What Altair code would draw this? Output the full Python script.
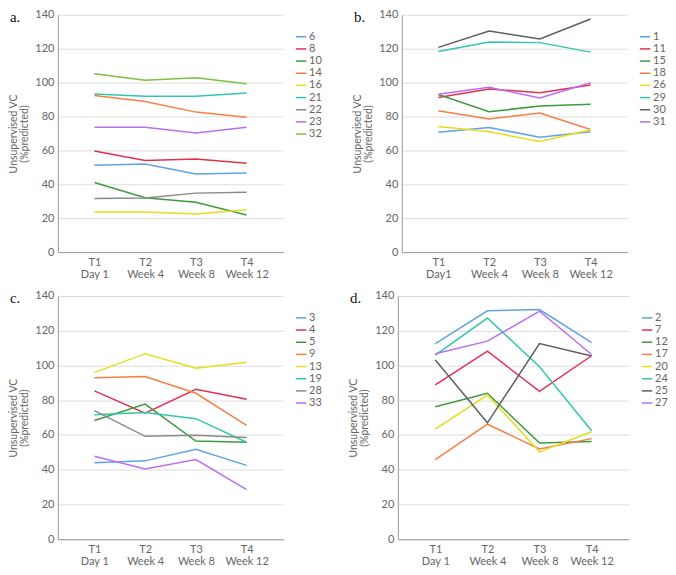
import altair as alt
import pandas as pd

# ---- time point labels ----
times_std = ["T1|Day 1", "T2|Week 4", "T3|Week 8", "T4|Week 12"]
times_b = ["T1|Day1", "T2|Week 4", "T3|Week 8", "T4|Week 12"]

# ---- panel a ----
ids_a = ["6", "8", "10", "14", "16", "21", "22", "23", "32"]
vals_a = [
    [51.3, 52.0, 46.1, 46.7],
    [59.7, 54.0, 54.9, 52.4],
    [41.1, 32.1, 29.4, 21.9],
    [92.4, 88.9, 82.6, 79.5],
    [23.6, 23.6, 22.5, 25.0],
    [93.3, 92.0, 92.0, 93.9],
    [31.7, 31.9, 34.8, 35.3],
    [73.6, 73.6, 70.3, 73.7],
    [105.2, 101.4, 102.9, 99.3],
]
colors_a = ["#5fa3e6", "#e3304f", "#3e9a3e", "#f57f45", "#e5de1f",
            "#33c6ae", "#8a8a8a", "#bb6ef5", "#7cc242"]

# ---- panel b ----
ids_b = ["1", "11", "15", "18", "26", "29", "30", "31"]
vals_b = [
    [70.7, 73.5, 67.8, 71.0],
    [91.2, 96.3, 94.0, 98.6],
    [93.0, 82.8, 86.2, 87.2],
    [83.4, 78.6, 82.0, 72.3],
    [74.1, 71.0, 65.2, 72.2],
    [118.4, 124.0, 123.6, 118.0],
    [120.8, 130.5, 125.8, 137.5],
    [93.2, 97.2, 90.9, 99.9],
]
colors_b = ["#5fa3e6", "#e3304f", "#3e9a3e", "#f57f45", "#e5de1f",
            "#33c6ae", "#5e5e5e", "#bb6ef5"]

# ---- panel c ----
ids_c = ["3", "4", "5", "9", "13", "19", "28", "33"]
vals_c = [
    [44.0, 45.1, 51.8, 42.5],
    [85.4, 72.5, 86.3, 80.6],
    [68.3, 77.8, 56.5, 55.8],
    [93.0, 93.7, 84.0, 65.5],
    [95.9, 106.8, 98.4, 101.8],
    [71.7, 73.0, 69.4, 55.8],
    [74.0, 59.2, 59.8, 58.6],
    [47.8, 40.4, 45.9, 28.6],
]
colors_c = ["#5fa3e6", "#e3304f", "#3e9a3e", "#f57f45", "#e5de1f",
            "#33c6ae", "#8a8a8a", "#bb6ef5"]

# ---- panel d ----
ids_d = ["2", "7", "12", "17", "20", "24", "25", "27"]
vals_d = [
    [112.6, 131.5, 132.2, 113.2],
    [88.9, 108.2, 85.1, 105.6],
    [76.2, 84.0, 55.4, 56.2],
    [45.8, 66.2, 52.0, 57.9],
    [63.4, 83.0, 50.3, 61.9],
    [105.9, 127.3, 99.3, 62.4],
    [103.1, 67.0, 112.6, 105.4],
    [106.7, 114.0, 131.3, 106.3],
]
colors_d = ["#5fa3e6", "#e3304f", "#3e9a3e", "#f57f45", "#e5de1f",
            "#33c6ae", "#5e5e5e", "#bb6ef5"]

FONT = "Lato"
GRAY = "#666666"


def panel(letter, ids, vals, colors, times, w, h):
    rows = []
    for pid, series in zip(ids, vals):
        for t, v in zip(times, series):
            rows.append({"id": pid, "time": t, "value": v})
    df = pd.DataFrame(rows)
    lines = alt.Chart(df).mark_line(strokeWidth=1.5).encode(
        x=alt.X("time:N", sort=times,
                scale=alt.Scale(type="point", padding=0.72),
                axis=alt.Axis(title=None, labelAngle=0, ticks=False, grid=False,
                              labelExpr="split(datum.label, '|')",
                              labelPadding=4, labelLineHeight=12)),
        y=alt.Y("value:Q", scale=alt.Scale(domain=[0, 140]),
                axis=alt.Axis(title=["Unsupervised VC", "(%predicted)"],
                              values=[0, 20, 40, 60, 80, 100, 120, 140],
                              ticks=False, labelPadding=4, titlePadding=5)),
        color=alt.Color("id:N", sort=ids,
                        scale=alt.Scale(domain=ids, range=colors),
                        legend=alt.Legend(title=None, orient="none",
                                          legendX=w + 12, legendY=16,
                                          symbolType="stroke", symbolSize=110,
                                          symbolStrokeWidth=1.5,
                                          labelFont=FONT, labelFontSize=11,
                                          labelColor=GRAY, rowPadding=1.2,
                                          labelOffset=2)),
        detail="id:N",
    )
    lab = alt.Chart(pd.DataFrame({"t": [letter]})).mark_text(
        font="Liberation Serif", fontSize=15, align="left", baseline="middle",
        color="#111111"
    ).encode(text="t:N", x=alt.value(-48), y=alt.value(2))
    return alt.layer(lines, lab).properties(width=w, height=h).resolve_scale(color="independent")


pa = panel("a.", ids_a, vals_a, colors_a, times_std, 226, 238)
pb = panel("b.", ids_b, vals_b, colors_b, times_b, 226, 238)
pc = panel("c.", ids_c, vals_c, colors_c, times_std, 226, 244)
pd_ = panel("d.", ids_d, vals_d, colors_d, times_std, 232, 244)

chart = alt.vconcat(
    alt.hconcat(pa, pb, spacing=30).resolve_scale(color="independent"),
    alt.hconcat(pc, pd_, spacing=26).resolve_scale(color="independent"),
    spacing=11,
).resolve_scale(color="independent").properties(padding=0).configure_view(
    stroke=None
).configure_axis(
    labelFont=FONT, labelFontSize=11, labelColor=GRAY,
    titleFont=FONT, titleFontSize=10.5, titleColor=GRAY, titleFontWeight="normal",
    titleLineHeight=11,
    domainColor="#9a9a9a", gridColor="#dddddd",
)

chart.save("out.html", embed_options={"renderer": "svg", "actions": False})
